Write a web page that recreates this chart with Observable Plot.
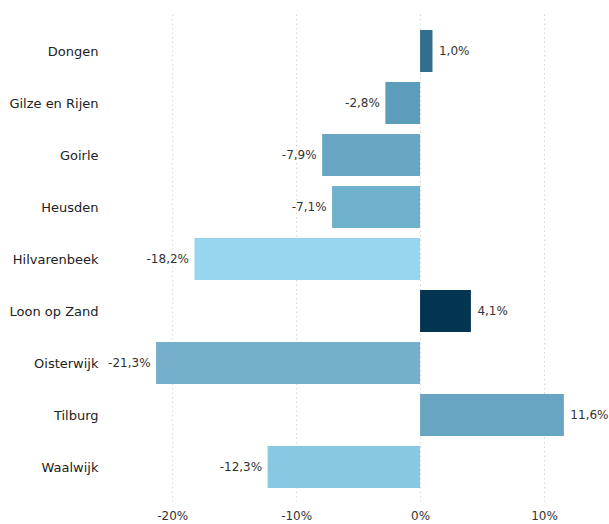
<!DOCTYPE html>
<html>
<head>
<meta charset="utf-8">
<script src="https://cdn.jsdelivr.net/npm/d3@7"></script>
<script src="https://cdn.jsdelivr.net/npm/@observablehq/plot@0.6"></script>
<style>
  html, body { margin: 0; padding: 0; background: #fff; }
  #chart svg { font-family: "DejaVu Sans", Verdana, sans-serif; }
</style>
</head>
<body>
<div id="chart"></div>
<script>
const gemeenten = ["Dongen", "Gilze en Rijen", "Goirle", "Heusden", "Hilvarenbeek", "Loon op Zand", "Oisterwijk", "Tilburg", "Waalwijk"];
const waarden = [1.0, -2.8, -7.9, -7.1, -18.2, 4.1, -21.3, 11.6, -12.3];
const kleuren = ["#2f6e8c", "#5b9dba", "#68a6c3", "#6fb0cc", "#98d5ee", "#033450", "#74b0cb", "#68a5c2", "#88c8e3"];
const xTicks = [-20, -10, 0, 10];

const data = gemeenten.map((g, i) => ({ gemeente: g, waarde: waarden[i], kleur: kleuren[i] }));
const fmt = v => `${v.toFixed(1).replace(".", ",")}%`;

const chart = Plot.plot({
  width: 609,
  height: 524,
  marginLeft: 135,
  marginRight: 3,
  marginTop: 19.5,
  marginBottom: 25.5,
  x: { domain: [-23, 15], ticks: xTicks, tickFormat: d => `${d}%`, label: null },
  y: { domain: gemeenten, padding: 0.2, label: null },
  marks: [
    Plot.ruleX(xTicks, { stroke: "#ccc", strokeOpacity: 0.8, strokeDasharray: "1.5,3", insetTop: -5, insetBottom: -3 }),
    Plot.barX(data, { x: "waarde", y: "gemeente", fill: "kleur" }),
    Plot.text(data.filter(d => d.waarde < 0), { x: "waarde", y: "gemeente", text: d => fmt(d.waarde), textAnchor: "end", dx: -6, fontSize: 12, fill: "#333" }),
    Plot.text(data.filter(d => d.waarde >= 0), { x: "waarde", y: "gemeente", text: d => fmt(d.waarde), textAnchor: "start", dx: 6, fontSize: 12, fill: "#333" }),
    Plot.axisX({ ticks: xTicks, tickFormat: d => `${d}%`, tickSize: 0, tickPadding: 12.5, fontSize: 12, color: "#333", label: null }),
    Plot.axisY({ tickSize: 0, tickPadding: 37, fontSize: 13, color: "#222", label: null })
  ]
});
document.getElementById("chart").appendChild(chart);
</script>
</body>
</html>
